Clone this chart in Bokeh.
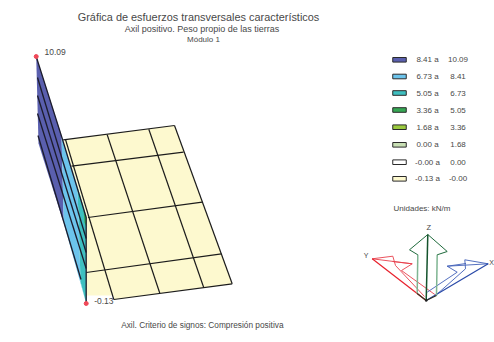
from bokeh.plotting import figure
from bokeh.models import Range1d
from bokeh.core.properties import value
from bokeh.embed import file_html
from bokeh.resources import INLINE

FONT = value("Liberation Sans")
TXT = "#484848"

title = "Gráfica de esfuerzos transversales característicos"
subtitle = "Axil positivo. Peso propio de las tierras"
module = "Módulo 1"
footer = "Axil. Criterio de signos:  Compresión positiva"
units = "Unidades: kN/m"

legend_from = ["8.41 a", "6.73 a", "5.05 a", "3.36 a", "1.68 a", "0.00 a", "-0.00 a", "-0.13 a"]
legend_to = ["10.09", "8.41", "6.73", "5.05", "3.36", "1.68", "0.00", "-0.00"]
legend_colors = ["#5a5fae", "#6cc4ec", "#3fbfc0", "#36a854", "#9bca3e", "#c8dfb4", "#ffffff", "#fdf9cf"]
legend_y = [59.3, 76, 92.5, 109.5, 126.7, 144.3, 161.7, 178.3]

# slab, in projected drawing coordinates
slab_x = [62.7, 174, 231.7, 113.3, 113, 86, 86]
slab_y = [139.3, 125, 283.3, 299, 295, 295, 215]
grid_lines = [
    ([62.7, 174], [139.3, 125]),
    ([71, 183], [165.7, 151.7]),
    ([87.5, 201.7], [217, 201.7]),
    ([85.7, 221], [272, 253.3]),
    ([113.3, 231.7], [299, 283.3]),
    ([65, 113.3], [139, 299]),
    ([106.7, 159.3], [134.3, 292.7]),
    ([148.3, 203.3], [128.7, 287.3]),
    ([174, 231.7], [125, 283.3]),
]

# axial force diagram (bands)
band_purple = ([35.7, 61, 63.3, 38], [56, 135, 223, 143])
band_blue = ([61, 76.7, 78, 80, 85.7, 63.3], [135, 185, 215, 281, 303, 223])
band_teal = ([76.7, 85.7, 85.7, 80, 78], [185, 215, 303, 281, 215])
band_green = ([83, 85.7, 85.7, 84], [209, 218, 226, 222])
diagram_lines = [
    ([35.7, 61.7, 85.7, 85.7], [56, 138, 217, 303]),
    ([37, 85.7], [77, 238]),
    ([37, 85.7], [95, 252]),
    ([37, 85.7], [113, 268]),
    ([37.5, 80.5], [135, 279]),
]
extreme_x = [35.7, 85.7]
extreme_y = [56, 303]
extreme_lab = ["10.09", "-0.13"]
extreme_lab_x = [44, 93.7]
extreme_lab_y = [51.5, 300]

# axes triad
y_main = ([371.7, 425.7], [258.3, 300])
y_arrow = [
    ([371.7, 392.3, 395, 424], [258.3, 255.7, 265, 296]),
    ([371.7, 411.7, 401, 434.3], [258.3, 263.3, 270, 294]),
    ([392, 411.7], [261, 263.3]),
]
x_main = ([487.7, 425.7], [263.3, 300])
x_arrow = [
    ([487.7, 464.3, 465, 435], [263.3, 259.3, 268.3, 295]),
    ([487.7, 446.7, 456.7, 426.7], [263.3, 265.7, 271.7, 291.7]),
    ([465.5, 446.7], [263, 265.7]),
]
z_main = ([425.7, 427.3], [300, 234])
z_head = ([417, 417.3, 409, 427.3, 446.7, 436.7, 436], [293, 254.3, 249.3, 234, 251, 254.3, 295])
z_left_leg = ([417.3, 416.7], [254.3, 293])
z_right_leg = ([436.7, 436], [254.3, 295])
base_x = [416.7, 425.7, 436]
base_y = [293, 300, 295]

p = figure(width=494, height=342, x_range=Range1d(0, 494), y_range=Range1d(342, 0),
           output_backend="svg", toolbar_location=None, min_border=0,
           background_fill_color="white", border_fill_color="white", outline_line_color=None)
p.xaxis.visible = False
p.yaxis.visible = False
p.xgrid.visible = False
p.ygrid.visible = False


def txt(x, y, s, size, align="center", color=TXT):
    p.text([x], [y], text=[s], text_font=FONT, text_font_size=size, text_color=color,
           text_align=align, text_baseline="middle")


p.patch(slab_x, slab_y, fill_color=legend_colors[7], line_color=None)
p.multi_line([g[0] for g in grid_lines], [g[1] for g in grid_lines], line_color="#1c1c1c", line_width=1.2)

for band, c in [(band_purple, legend_colors[0]), (band_blue, legend_colors[1]),
                (band_teal, legend_colors[2]), (band_green, legend_colors[3])]:
    p.patch(band[0], band[1], fill_color=c, line_color=None)
p.multi_line([g[0] for g in diagram_lines], [g[1] for g in diagram_lines], line_color="#1c1c2c", line_width=1.3)
p.scatter(extreme_x, extreme_y, size=4, fill_color="#f04858", line_color="#f04858")
p.text(extreme_lab_x, extreme_lab_y, text=extreme_lab, text_font=FONT, text_font_size="8.5px",
       text_color=TXT, text_baseline="middle")

txt(198, 16, title, "10.9px")
txt(201.5, 28.5, subtitle, "9px")
txt(203, 38.5, module, "8px")
txt(203, 324, footer, "8.3px")

p.rect([399] * 8, legend_y, width=13.5, height=4.6, fill_color=legend_colors,
       line_color="#2a2a2a", line_width=1)
p.text([427] * 8, legend_y, text=legend_from, text_font=FONT, text_font_size="8px",
       text_color=TXT, text_align="center", text_baseline="middle")
p.text([457.5] * 8, legend_y, text=legend_to, text_font=FONT, text_font_size="8px",
       text_color=TXT, text_align="center", text_baseline="middle")
txt(421.5, 207.7, units, "8px")

p.multi_line([g[0] for g in y_arrow], [g[1] for g in y_arrow], line_color="#e8404c", line_width=0.9)
p.line(y_main[0], y_main[1], line_color="#e8202c", line_width=1.2)
p.multi_line([g[0] for g in x_arrow], [g[1] for g in x_arrow], line_color="#3f5fb8", line_width=0.9)
p.line(x_main[0], x_main[1], line_color="#2a4aa8", line_width=1.2)
p.line(z_left_leg[0], z_left_leg[1], line_color="#7fb592", line_width=1.5)
p.line(z_right_leg[0], z_right_leg[1], line_color="#7fb592", line_width=1.5)
p.line(z_head[0][1:6], z_head[1][1:6], line_color="#1f6a3c", line_width=1)
p.line(z_main[0], z_main[1], line_color="#14532c", line_width=1.5)
p.line(base_x, base_y, line_color="#333322", line_width=1.2)
p.scatter([base_x[1]], [base_y[1]], size=2.5, fill_color="#222222", line_color=None)

txt(365.7, 254.5, "Y", "7px")
txt(491, 261.5, "X", "7px")
txt(428.3, 227, "Z", "7.5px")

open("out.html", "w").write(file_html(p, INLINE))
